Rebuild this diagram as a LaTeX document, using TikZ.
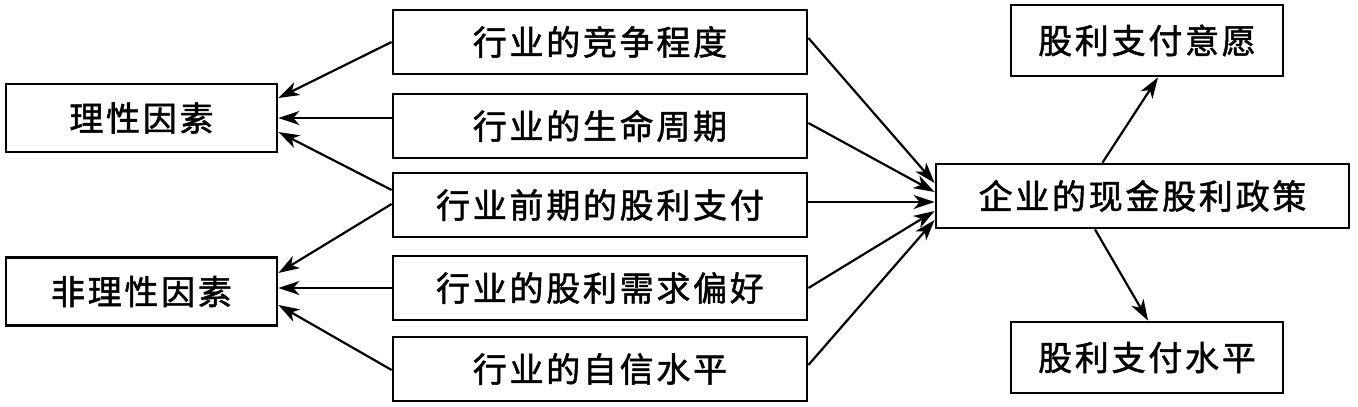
\documentclass[tikz,border=0pt]{standalone}
\usepackage{fontspec}
\setmainfont{Noto Sans CJK SC}[LetterSpace=8,FakeBold=1.5]
\usetikzlibrary{arrows.meta}
\usetikzlibrary{calc}

\begin{document}
\begin{tikzpicture}[x=1pt,y=-1pt,
  box/.style={draw,line width=2.8pt,inner sep=0pt,font=\fontsize{34}{36}\selectfont},
  link/.style={line width=2.2pt,-{Stealth[length=21pt,width=14pt,inset=6pt]}}]
\useasboundingbox (0,0) rectangle (1358,407);

% left
\node[box,minimum width=271,minimum height=68] (rat) at (141.5,118) {理性因素};
\node[box,minimum width=271,minimum height=68] (irr) at (141.5,291.5) {非理性因素};

% middle
\node[box,minimum width=414,minimum height=64] (m1) at (600,42) {行业的竞争程度};
\node[box,minimum width=414,minimum height=64] (m2) at (600,126) {行业的生命周期};
\node[box,minimum width=414,minimum height=64] (m3) at (600,205) {行业前期的股利支付};
\node[box,minimum width=414,minimum height=64] (m4) at (600,288) {行业的股利需求偏好};
\node[box,minimum width=414,minimum height=64] (m5) at (600,369) {行业的自信水平};

% right
\node[box,minimum width=413,minimum height=64] (pol) at (1142.5,196) {企业的现金股利政策};
\node[box,minimum width=272,minimum height=71] (will) at (1147,40.5) {股利支付意愿};
\node[box,minimum width=272,minimum height=71] (lev) at (1147,357.5) {股利支付水平};

\draw[link] (m1.west) -- ($(rat.east)+(0,-20)$);
\draw[link] ($(m2.west)+(0,-8)$) -- (rat.east);
\draw[link] ($(m3.west)+(0,-15)$) -- ($(rat.east)+(0,14)$);
\draw[link] ($(m3.west)+(0,-1)$) -- ($(irr.east)+(0,-18.5)$);
\draw[link] (m4.west) -- ($(irr.east)+(0,-3.5)$);
\draw[link] ($(m5.west)+(0,1)$) -- ($(irr.east)+(0,13.5)$);

\draw[link] ($(m1.east)+(0,-4)$) -- ($(pol.west)+(0,-13)$);
\draw[link] ($(m2.east)+(0,-3)$) -- ($(pol.west)+(0,-4)$);
\draw[link] ($(m3.east)+(0,-3)$) -- ($(pol.west)+(0,6)$);
\draw[link] (m4.east) -- ($(pol.west)+(0,15)$);
\draw[link] ($(m5.east)+(0,-4)$) -- ($(pol.west)+(0,24)$);

\draw[link] ($(pol.north)+(-40,0)$) -- ($(will.south)+(11,0)$);
\draw[link] ($(pol.south)+(-47.5,0)$) -- ($(lev.north)+(1,0)$);

\end{tikzpicture}
\end{document}
